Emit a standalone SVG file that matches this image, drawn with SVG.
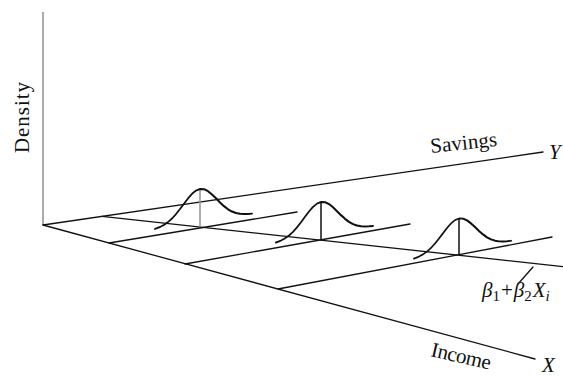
<svg xmlns="http://www.w3.org/2000/svg" width="563" height="378" viewBox="0 0 563 378">
<style>
.ln{stroke:#111;stroke-width:1.3;fill:none;stroke-linecap:round}
.bell{stroke:#111;stroke-width:1.9;fill:none;stroke-linejoin:round;stroke-linecap:round}
.vl{stroke:#111;stroke-width:1.5}
.lbl{font-family:"Liberation Serif","Times New Roman",serif;font-size:21px;fill:#111}
.it{font-style:italic}
</style>
<defs>
<path id="bellshape" d="M-45,-1.0 L-40,-2.1 L-36,-3.56 L-32,-5.7 L-28,-8.6 L-24,-12.4 L-20,-16.8 L-16,-21.5 L-12,-26.1 L-8,-30.0 L-4,-32.6 L0,-33.5 L4,-32.6 L8,-30.0 L12,-26.1 L16,-21.5 L20,-16.8 L24,-12.4 L28,-8.6 L32,-5.7 L36,-3.56 L40,-2.1 L44,-1.18 L48,-0.62 L52,-0.31"/>
</defs>
<rect width="563" height="378" fill="#fff"/>
<g id="connectors">
<line x1="43" y1="12" x2="43" y2="225" stroke="#aaa" stroke-width="2"/>
<line class="ln" x1="43" y1="225" x2="543" y2="152"/>
<line class="ln" x1="43" y1="225" x2="535" y2="359"/>
<line class="ln" x1="109" y1="243" x2="297" y2="212"/>
<line class="ln" x1="185" y1="264" x2="410" y2="224"/>
<line class="ln" x1="278" y1="289" x2="552" y2="237"/>
<line class="ln" x1="102" y1="216.3" x2="563" y2="266.6"/>
<line class="ln" x1="533" y1="267" x2="518" y2="284"/>
</g>
<g id="dist1">
<line x1="200" y1="189" x2="200" y2="227" stroke="#999" stroke-width="1.6"/>
<use href="#bellshape" class="bell" transform="translate(200,222.5) skewY(-9.37)"/>
</g>
<g id="dist2">
<line class="vl" x1="321" y1="202" x2="321" y2="240"/>
<use href="#bellshape" class="bell" transform="translate(321,235.5) skewY(-10.1)"/>
</g>
<g id="dist3">
<line class="vl" x1="459" y1="218" x2="459" y2="255"/>
<use href="#bellshape" class="bell" transform="translate(459,251) skewY(-10.76) scale(1,0.97)"/>
</g>
<g id="labels">
<text class="lbl" transform="translate(29,153) rotate(-90)" textLength="71">Density</text>
<text class="lbl" transform="translate(431,153) rotate(-6)" textLength="67">Savings</text>
<text class="lbl" transform="translate(430,356) rotate(13)" textLength="61">Income</text>
<text class="lbl it" x="549" y="159">Y</text>
<text class="lbl it" x="542" y="372">X</text>
<text class="lbl" x="482" y="297"><tspan class="it">β</tspan><tspan font-size="15" dy="4">1</tspan><tspan dy="-4" dx="1">+</tspan><tspan class="it" dx="1">β</tspan><tspan font-size="15" dy="4">2</tspan><tspan class="it" dy="-4" dx="1">X</tspan><tspan class="it" font-size="15" dy="4">i</tspan></text>
</g>
</svg>
